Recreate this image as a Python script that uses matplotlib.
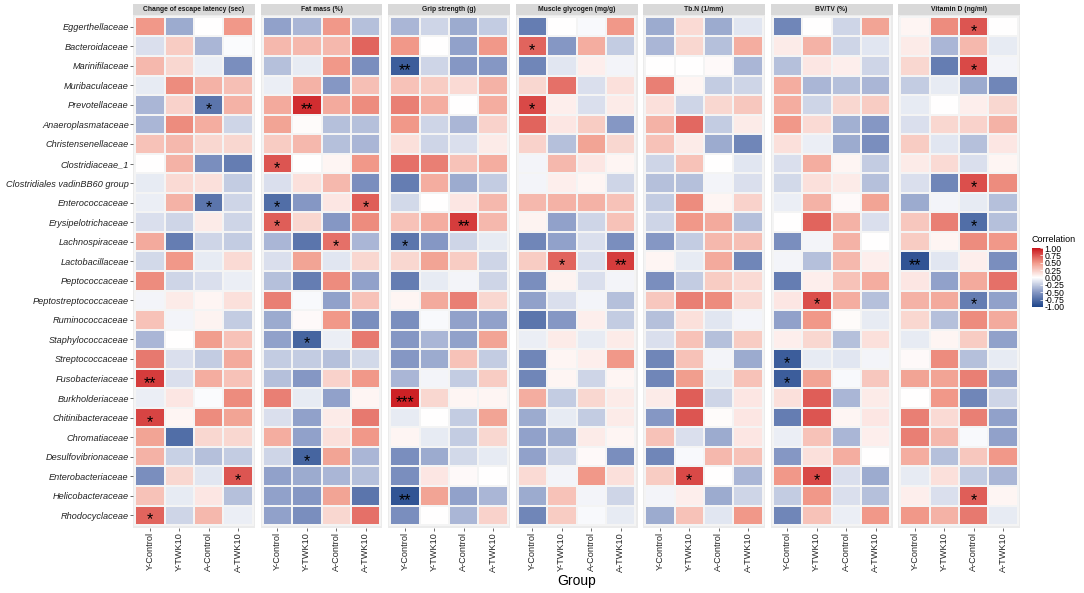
import numpy as np
import matplotlib
matplotlib.use('Agg')
import matplotlib.pyplot as plt
from matplotlib.colors import LinearSegmentedColormap
from matplotlib.cm import ScalarMappable
from matplotlib.patches import Rectangle

plt.rcParams['font.family'] = ['Liberation Sans', 'DejaVu Sans']

# taxa top to bottom
taxa = ['Eggerthellaceae', 'Bacteroidaceae', 'Marinifilaceae', 'Muribaculaceae',
        'Prevotellaceae', 'Anaeroplasmataceae', 'Christensenellaceae', 'Clostridiaceae_1',
        'Clostridiales vadinBB60 group', 'Enterococcaceae', 'Erysipelotrichaceae',
        'Lachnospiraceae', 'Lactobacillaceae', 'Peptococcaceae', 'Peptostreptococcaceae',
        'Ruminococcaceae', 'Staphylococcaceae', 'Streptococcaceae', 'Fusobacteriaceae',
        'Burkholderiaceae', 'Chitinibacteraceae', 'Chromatiaceae', 'Desulfovibrionaceae',
        'Enterobacteriaceae', 'Helicobacteraceae', 'Rhodocyclaceae']
groups = ['Y-Control', 'Y-TWK10', 'A-Control', 'A-TWK10']
panels = ['Change of escape latency (sec)', 'Fat mass (%)', 'Grip strength (g)',
          'Muscle glycogen (mg/g)', 'Tb.N (1/mm)', 'BV/TV (%)', 'Vitamin D (ng/ml)']

# correlation per taxon, columns = groups
escape = [[0.5, -0.4, 0.0, 0.5], [-0.15, 0.25, -0.35, -0.02], [0.35, 0.2, -0.08, -0.55],
          [-0.1, 0.55, 0.38, 0.32], [-0.35, 0.22, -0.7, 0.38], [-0.35, 0.55, 0.4, -0.2],
          [0.3, 0.35, 0.2, 0.2], [0.0, 0.38, -0.55, -0.65], [-0.1, 0.18, 0.15, -0.25],
          [-0.08, 0.38, -0.7, -0.2], [-0.15, -0.2, 0.1, -0.2], [0.42, -0.65, -0.2, -0.25],
          [-0.18, 0.5, -0.1, 0.18], [0.55, -0.2, -0.15, -0.08], [-0.05, 0.1, 0.05, 0.15],
          [0.3, -0.05, 0.06, -0.25], [-0.35, 0.0, 0.48, 0.3], [0.62, -0.15, -0.25, 0.42],
          [0.85, -0.15, 0.4, 0.3], [-0.08, 0.12, -0.02, 0.55], [0.82, 0.05, 0.55, 0.45],
          [0.45, -0.75, 0.2, 0.2], [0.38, -0.22, -0.3, -0.25], [-0.55, 0.2, -0.12, 0.75],
          [0.3, -0.1, 0.12, -0.3], [0.7, -0.2, 0.35, -0.08]]
fat = [[-0.45, -0.35, 0.5, -0.3], [0.35, 0.35, 0.35, 0.7], [-0.3, -0.1, 0.5, -0.55],
       [-0.08, 0.38, -0.5, 0.32], [0.42, 0.9, 0.42, 0.55], [0.45, 0.02, -0.3, -0.3],
       [0.25, 0.35, -0.3, -0.35], [0.75, 0.0, 0.05, 0.5], [-0.15, 0.15, 0.35, -0.55],
       [-0.75, -0.5, 0.12, 0.72], [0.72, 0.2, -0.5, 0.55], [-0.35, -0.7, 0.65, -0.35],
       [-0.15, 0.45, -0.12, 0.2], [-0.3, -0.65, 0.55, -0.45], [0.6, -0.03, -0.45, 0.3],
       [-0.4, 0.03, 0.5, -0.55], [-0.45, -0.8, -0.08, 0.62], [-0.25, -0.25, -0.3, -0.18],
       [-0.3, -0.5, 0.22, 0.5], [0.6, -0.1, -0.45, 0.05], [-0.15, -0.45, 0.1, 0.62],
       [0.4, -0.45, 0.15, 0.5], [-0.2, -0.8, 0.45, -0.35], [-0.45, -0.4, -0.35, -0.3],
       [-0.45, -0.5, 0.45, -0.7], [-0.45, -0.55, 0.2, 0.65]]
grip = [[-0.35, -0.2, -0.4, -0.25], [0.5, 0.0, -0.45, 0.5], [-0.85, -0.2, -0.5, -0.5],
        [0.3, 0.25, 0.18, 0.38], [0.6, 0.4, 0.0, 0.4], [0.5, -0.2, -0.35, 0.22],
        [0.15, -0.2, -0.15, 0.1], [0.65, 0.6, 0.3, 0.4], [-0.65, 0.4, -0.4, -0.25],
        [-0.18, 0.0, 0.12, 0.35], [0.3, 0.4, 0.85, 0.35], [-0.7, -0.5, -0.2, -0.1],
        [0.2, 0.45, 0.25, -0.2], [-0.65, -0.1, -0.05, -0.2], [0.05, 0.42, 0.6, 0.2],
        [-0.55, -0.03, -0.45, -0.45], [-0.5, -0.35, -0.45, 0.45], [-0.5, -0.4, 0.3, -0.25],
        [-0.35, -0.05, -0.25, 0.25], [0.95, 0.2, 0.05, 0.05], [-0.1, 0.0, -0.25, 0.45],
        [0.05, -0.1, -0.25, 0.2], [-0.55, -0.4, -0.18, -0.1], [-0.55, 0.12, 0.03, 0.0],
        [-0.9, 0.45, -0.45, -0.35], [-0.55, 0.0, -0.35, 0.22]]
glycogen = [[-0.65, 0.0, -0.03, 0.5], [0.7, -0.5, 0.4, -0.25], [-0.6, -0.12, 0.08, -0.05],
            [0.2, 0.65, -0.15, 0.15], [0.8, 0.08, -0.15, 0.1], [0.7, 0.12, 0.25, -0.5],
            [0.22, -0.3, 0.45, 0.2], [-0.05, 0.35, 0.12, 0.05], [-0.05, 0.08, 0.05, -0.2],
            [0.35, 0.38, 0.38, 0.3], [0.06, -0.45, -0.2, 0.3], [-0.6, -0.45, -0.15, -0.55],
            [0.25, 0.7, -0.15, 0.85], [-0.55, 0.06, -0.15, -0.05], [-0.45, -0.15, -0.05, -0.3],
            [-0.7, -0.5, 0.08, -0.25], [-0.08, 0.1, -0.1, 0.1], [-0.6, 0.05, 0.08, 0.5],
            [-0.6, 0.05, -0.2, 0.05], [0.4, -0.25, 0.2, 0.1], [-0.4, -0.1, -0.25, 0.1],
            [-0.45, -0.4, 0.1, 0.05], [-0.45, -0.2, 0.03, -0.55], [0.18, -0.05, 0.5, 0.15],
            [-0.4, 0.3, -0.05, -0.2], [-0.6, 0.25, -0.03, -0.1]]
tbn = [[-0.4, 0.18, -0.4, -0.12], [-0.35, 0.2, -0.3, 0.4], [0.0, 0.0, 0.03, -0.35],
       [0.6, 0.05, -0.25, -0.2], [0.15, -0.2, 0.2, 0.28], [0.38, 0.68, -0.25, 0.1],
       [0.3, 0.1, -0.4, -0.6], [-0.2, 0.3, 0.0, -0.12], [-0.3, -0.3, -0.05, -0.15],
       [-0.25, 0.55, 0.05, 0.22], [-0.2, 0.5, 0.42, -0.3], [-0.5, -0.25, 0.35, 0.32],
       [0.05, -0.1, 0.42, -0.6], [-0.55, -0.25, 0.25, 0.18], [0.28, 0.6, 0.55, 0.18],
       [-0.3, 0.15, -0.12, -0.05], [-0.15, 0.3, -0.3, 0.25], [-0.6, 0.3, -0.05, -0.4],
       [-0.6, 0.48, -0.1, 0.3], [0.1, 0.72, -0.2, 0.12], [-0.5, 0.75, 0.02, 0.12],
       [0.3, -0.15, -0.4, 0.12], [-0.6, -0.03, 0.35, 0.3], [0.25, 0.8, 0.0, -0.35],
       [-0.05, 0.08, -0.4, -0.2], [-0.4, 0.3, -0.12, 0.5]]
bvtv = [[-0.6, 0.0, -0.2, 0.45], [0.1, 0.38, -0.2, -0.12], [-0.3, 0.12, 0.08, -0.2],
        [0.4, -0.35, -0.3, -0.35], [0.4, -0.2, 0.2, 0.25], [0.5, 0.18, -0.38, -0.5],
        [0.15, -0.08, -0.4, -0.55], [-0.15, 0.4, 0.05, -0.25], [-0.18, 0.15, 0.1, -0.3],
        [-0.08, 0.38, 0.03, 0.45], [0.0, 0.7, 0.38, -0.15], [-0.55, -0.05, 0.38, 0.0],
        [-0.05, -0.3, 0.35, 0.08], [-0.65, 0.08, 0.3, 0.4], [0.12, 0.78, 0.4, -0.3],
        [-0.45, 0.5, 0.02, -0.1], [0.08, 0.2, -0.3, 0.15], [-0.85, -0.1, -0.12, -0.05],
        [-0.85, 0.45, -0.03, 0.28], [0.15, 0.72, -0.35, 0.1], [-0.65, 0.75, 0.05, 0.12],
        [-0.08, 0.3, -0.35, 0.08], [-0.5, 0.15, 0.4, 0.0], [0.5, 0.8, -0.15, -0.4],
        [-0.25, 0.5, -0.15, -0.3], [-0.6, 0.3, -0.08, 0.5]]
vitd = [[0.05, 0.55, 0.75, 0.0], [0.1, -0.35, 0.35, -0.1], [0.2, -0.65, 0.8, -0.05],
        [-0.25, -0.1, -0.4, -0.6], [-0.1, 0.0, 0.08, 0.2], [-0.15, 0.2, 0.22, 0.38],
        [0.25, -0.12, -0.3, 0.12], [0.1, 0.18, -0.15, 0.05], [-0.15, -0.6, 0.78, 0.55],
        [-0.4, -0.05, -0.1, -0.3], [0.28, 0.6, -0.75, -0.3], [0.25, 0.05, 0.55, 0.5],
        [-0.9, -0.12, 0.08, -0.55], [0.12, -0.45, 0.42, 0.65], [0.38, 0.42, -0.65, -0.45],
        [0.2, -0.3, 0.55, 0.42], [-0.1, 0.05, 0.25, -0.45], [0.03, 0.55, -0.3, -0.1],
        [0.45, 0.45, 0.6, -0.45], [0.0, 0.5, -0.6, -0.2], [0.6, 0.18, 0.6, -0.45],
        [0.6, 0.35, -0.03, -0.45], [0.4, -0.3, 0.28, 0.5], [-0.1, 0.15, -0.25, -0.35],
        [0.08, -0.15, 0.72, 0.05], [0.5, 0.38, 0.62, -0.1]]
panel_values = [escape, fat, grip, glycogen, tbn, bvtv, vitd]

# significance marks: (panel index, taxon, group, label)
sig = [(0, 'Prevotellaceae', 'A-Control', '*'), (0, 'Enterococcaceae', 'A-Control', '*'),
       (0, 'Fusobacteriaceae', 'Y-Control', '**'), (0, 'Chitinibacteraceae', 'Y-Control', '*'),
       (0, 'Enterobacteriaceae', 'A-TWK10', '*'), (0, 'Rhodocyclaceae', 'Y-Control', '*'),
       (1, 'Prevotellaceae', 'Y-TWK10', '**'), (1, 'Clostridiaceae_1', 'Y-Control', '*'),
       (1, 'Enterococcaceae', 'Y-Control', '*'), (1, 'Enterococcaceae', 'A-TWK10', '*'),
       (1, 'Erysipelotrichaceae', 'Y-Control', '*'), (1, 'Lachnospiraceae', 'A-Control', '*'),
       (1, 'Staphylococcaceae', 'Y-TWK10', '*'), (1, 'Desulfovibrionaceae', 'Y-TWK10', '*'),
       (2, 'Marinifilaceae', 'Y-Control', '**'), (2, 'Erysipelotrichaceae', 'A-Control', '**'),
       (2, 'Lachnospiraceae', 'Y-Control', '*'), (2, 'Burkholderiaceae', 'Y-Control', '***'),
       (2, 'Helicobacteraceae', 'Y-Control', '**'),
       (3, 'Bacteroidaceae', 'Y-Control', '*'), (3, 'Prevotellaceae', 'Y-Control', '*'),
       (3, 'Lactobacillaceae', 'Y-TWK10', '*'), (3, 'Lactobacillaceae', 'A-TWK10', '**'),
       (4, 'Enterobacteriaceae', 'Y-TWK10', '*'),
       (5, 'Peptostreptococcaceae', 'Y-TWK10', '*'), (5, 'Streptococcaceae', 'Y-Control', '*'),
       (5, 'Fusobacteriaceae', 'Y-Control', '*'), (5, 'Enterobacteriaceae', 'Y-TWK10', '*'),
       (6, 'Eggerthellaceae', 'A-Control', '*'), (6, 'Marinifilaceae', 'A-Control', '*'),
       (6, 'Clostridiales vadinBB60 group', 'A-Control', '*'),
       (6, 'Erysipelotrichaceae', 'A-Control', '*'), (6, 'Peptostreptococcaceae', 'A-Control', '*'),
       (6, 'Lactobacillaceae', 'Y-Control', '**'), (6, 'Helicobacteraceae', 'A-Control', '*')]

cmap = LinearSegmentedColormap.from_list(
    'corr', [(0, '#1D4489'), (0.25, '#8597C4'), (0.5, '#FFFFFF'), (0.75, '#F19A8A'), (1, '#C9141B')])

W, H = 1084, 593
fig = plt.figure(figsize=(W / 100, H / 100), dpi=100)

top_px, bot_px = 15, 528
xe = np.arange(len(groups) + 1) - 0.5
ye = np.arange(len(taxa) + 1) - 0.5

for i, (title, vals) in enumerate(zip(panels, panel_values)):
    left_px = 133 + i * 127.5
    ax = fig.add_axes([left_px / W, 1 - bot_px / H, 122 / W, (bot_px - top_px) / H])
    ax.set_facecolor('#EBEBEB')
    ax.pcolormesh(xe, ye, np.array(vals), cmap=cmap, vmin=-1, vmax=1,
                  edgecolors='#F4F4F4', linewidth=0.25)
    ax.set_xlim(-0.57, 3.57)
    ax.set_ylim(25.65, -0.6)
    for s in ax.spines.values():
        s.set_visible(False)
    ax.set_xticks(range(len(groups)))
    ax.set_xticklabels(groups, rotation=90, fontsize=6.6, color='#222222')
    ax.tick_params(axis='x', length=2, width=0.5, color='#333333', pad=1)
    if i == 0:
        ax.set_yticks(range(len(taxa)))
        ax.set_yticklabels(taxa, fontsize=6.6, style='italic', color='#222222')
        ax.tick_params(axis='y', length=2, width=0.5, color='#333333', pad=1)
    else:
        ax.set_yticks([])
    # facet strip
    ax.add_patch(Rectangle((0, 1.0), 1, 11 / (bot_px - top_px), transform=ax.transAxes,
                           facecolor='#D9D9D9', edgecolor='none', clip_on=False))
    ax.text(0.5, 1 + 5.5 / (bot_px - top_px), title, transform=ax.transAxes,
            ha='center', va='center', fontsize=4.9, fontweight='bold', color='#1A1A1A')
    for p, tax, grp, lab in sig:
        if p == i:
            ax.text(groups.index(grp), taxa.index(tax) + 0.24, lab, ha='center', va='center',
                    fontsize=11.5, color='black')

fig.text(577 / W, 1 - 581 / H, 'Group', ha='center', va='center', fontsize=10)

# legend
cax = fig.add_axes([1032 / W, 1 - 307 / H, 11 / W, 59 / H])
sm = ScalarMappable(cmap=cmap, norm=plt.Normalize(-1, 1))
cb = fig.colorbar(sm, cax=cax, ticks=np.linspace(-1, 1, 9), format='%.2f')
cb.outline.set_visible(False)
cax.tick_params(length=2, width=0.5, color='white', direction='in', labelsize=6.3, pad=1)
fig.text(1032 / W, 1 - 240 / H, 'Correlation', ha='left', va='center', fontsize=6.5)

fig.savefig('out.png', dpi=100)
